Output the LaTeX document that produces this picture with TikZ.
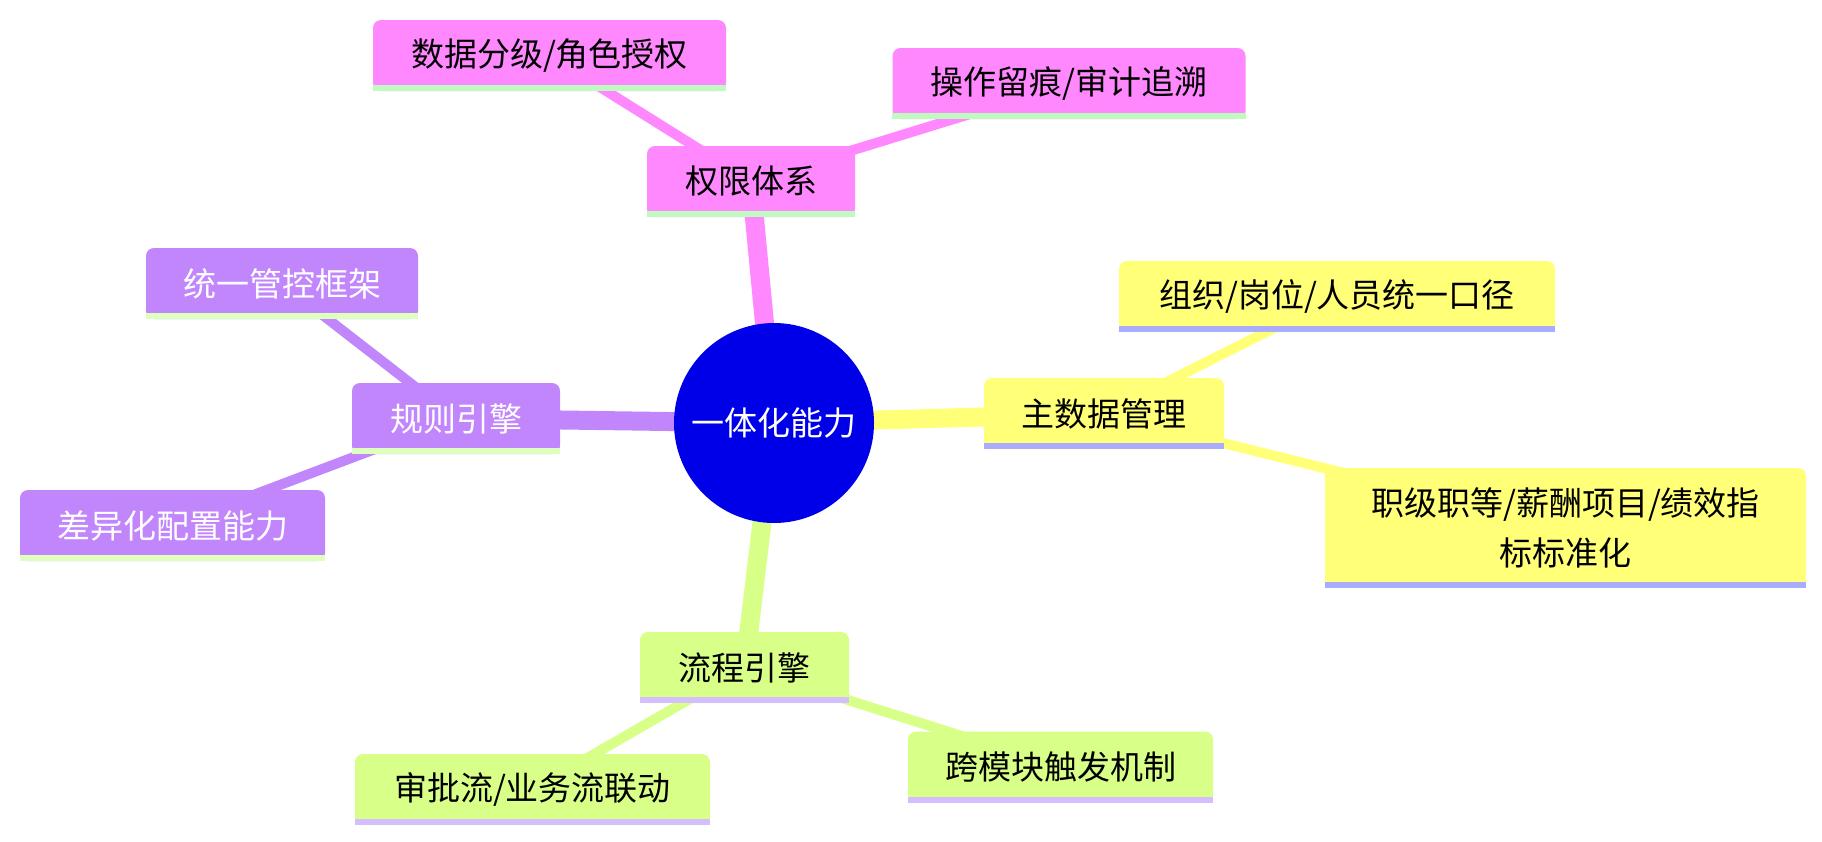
\documentclass[tikz,border=0pt]{standalone}
\usepackage{fontspec}
\setmainfont{Noto Sans CJK SC}
\pgfdeclarelayer{bg}
\pgfsetlayers{bg,main}
\definecolor{cpink}{RGB}{255,136,255}
\definecolor{cpinkbar}{RGB}{192,250,192}
\definecolor{cpurple}{RGB}{194,134,252}
\definecolor{cpurplebar}{RGB}{222,255,190}
\definecolor{cyellow}{RGB}{255,255,120}
\definecolor{cyellowbar}{RGB}{172,172,255}
\definecolor{cgreen}{RGB}{216,255,136}
\definecolor{cgreenbar}{RGB}{212,190,255}
\definecolor{cblue}{RGB}{0,0,232}
\begin{document}
\begin{tikzpicture}[x=1pt,y=-1pt,
  box/.style={rounded corners=8pt, inner sep=0pt, align=center,
    font=\fontsize{33}{50}\selectfont, minimum height=71pt},
  pinkbox/.style={box, fill=cpink, text=black},
  purplebox/.style={box, fill=cpurple, text=white},
  yellowbox/.style={box, fill=cyellow, text=black},
  greenbox/.style={box, fill=cgreen, text=black},
  mainline/.style={line width=19pt},
  subline/.style={line width=10pt}]
\useasboundingbox (0,0) rectangle (1822,841);

% centre
\node[circle, fill=cblue, minimum size=200pt, inner sep=0pt, text=white,
  font=\fontsize{33}{40}\selectfont] (c) at (774,423) {一体化能力};

% pink branch
\node[pinkbox, minimum width=208pt] (qx) at (751,181.5) {权限体系};
\node[pinkbox, minimum width=353pt] (sj) at (549.5,55.5) {数据分级/角色授权};
\node[pinkbox, minimum width=353pt] (cz) at (1069,83.5) {操作留痕/审计追溯};

% purple branch
\node[purplebox, minimum width=208pt] (gz) at (456,418.5) {规则引擎};
\node[purplebox, minimum width=272pt] (ty) at (282,283.5) {统一管控框架};
\node[purplebox, minimum width=305pt] (cy) at (172.5,525.5) {差异化配置能力};

% yellow branch
\node[yellowbox, minimum width=240pt] (zsj) at (1104,413.5) {主数据管理};
\node[yellowbox, minimum width=436pt] (zz) at (1337,296.5) {组织/岗位/人员统一口径};
\node[yellowbox, minimum width=481pt, minimum height=120pt] (zj) at (1565.5,528)
  {职级职等/薪酬项目/绩效指\\标标准化};

% green branch
\node[greenbox, minimum width=209pt] (lc) at (744.5,667.5) {流程引擎};
\node[greenbox, minimum width=355pt] (sp) at (532.5,789.5) {审批流/业务流联动};
\node[greenbox, minimum width=305pt] (km) at (1060.5,767) {跨模块触发机制};

% bottom bars
\foreach \n in {qx,sj,cz}{\fill[cpinkbar] (\n.south west) rectangle ([yshift=6pt]\n.south east);}
\foreach \n in {gz,ty,cy}{\fill[cpurplebar] (\n.south west) rectangle ([yshift=6pt]\n.south east);}
\foreach \n in {zsj,zz,zj}{\fill[cyellowbar] (\n.south west) rectangle ([yshift=6pt]\n.south east);}
\foreach \n in {lc,sp,km}{\fill[cgreenbar] (\n.south west) rectangle ([yshift=6pt]\n.south east);}

\begin{pgfonlayer}{bg}
  \draw[mainline, cpink] (c.center) -- (qx.center);
  \draw[mainline, cpurple] (c.center) -- (gz.center);
  \draw[mainline, cyellow] (c.center) -- (zsj.center);
  \draw[mainline, cgreen] (c.center) -- (lc.center);
  \draw[subline, cpink] (qx.center) -- (sj.center);
  \draw[subline, cpink] (qx.center) -- (cz.center);
  \draw[subline, cpurple] (gz.center) -- (ty.center);
  \draw[subline, cpurple] (gz.center) -- (cy.center);
  \draw[subline, cyellow] (zsj.center) -- (zz.center);
  \draw[subline, cyellow] (zsj.center) -- (zj.center);
  \draw[subline, cgreen] (lc.center) -- (sp.center);
  \draw[subline, cgreen] (lc.center) -- (km.center);
\end{pgfonlayer}
\end{tikzpicture}
\end{document}
